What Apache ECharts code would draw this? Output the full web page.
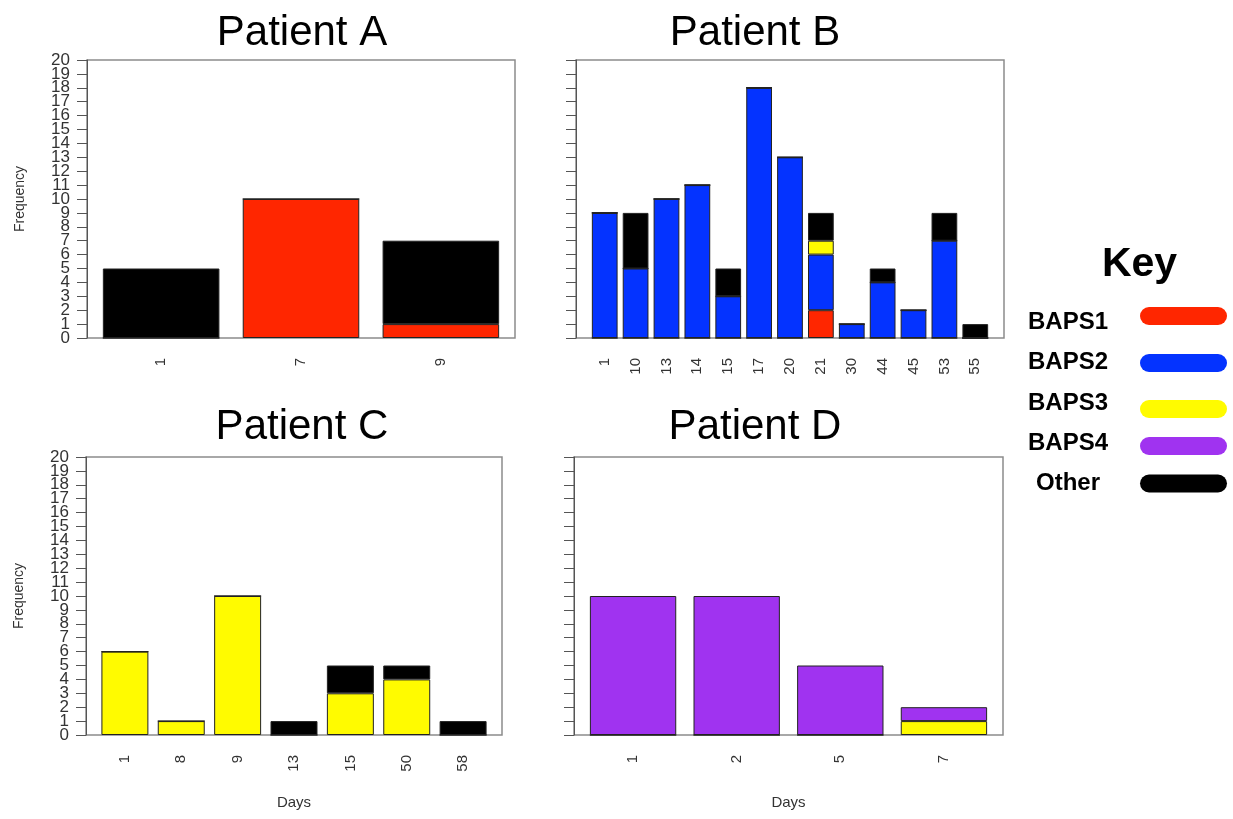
<!DOCTYPE html>
<html>
<head>
<meta charset="utf-8">
<script src="https://cdn.jsdelivr.net/npm/echarts@6/dist/echarts.min.js"></script>
<style>
html,body{margin:0;padding:0;background:#fff;}
#chart{width:1233px;height:819px;}
</style>
</head>
<body>
<div id="chart"></div>
<script>
// ---------------- data ----------------
const groupNames = ['BAPS1', 'BAPS2', 'BAPS3', 'BAPS4', 'Other'];
const groupColors = ['#FF2600', '#0433FF', '#FFFB00', '#A033F0', '#000000'];

const daysA = ['1', '7', '9'];
const patientA_BAPS1 = [0, 10, 1];
const patientA_Other = [5, 0, 6];

const daysB = ['1', '10', '13', '14', '15', '17', '20', '21', '30', '44', '45', '53', '55'];
const patientB_BAPS1 = [0, 0, 0, 0, 0, 0, 0, 2, 0, 0, 0, 0, 0];
const patientB_BAPS2 = [9, 5, 10, 11, 3, 18, 13, 4, 1, 4, 2, 7, 0];
const patientB_BAPS3 = [0, 0, 0, 0, 0, 0, 0, 1, 0, 0, 0, 0, 0];
const patientB_Other = [0, 4, 0, 0, 2, 0, 0, 2, 0, 1, 0, 2, 1];

const daysC = ['1', '8', '9', '13', '15', '50', '58'];
const patientC_BAPS3 = [6, 1, 10, 0, 3, 4, 0];
const patientC_Other = [0, 0, 0, 1, 2, 1, 1];

const daysD = ['1', '2', '5', '7'];
const patientD_BAPS3 = [0, 0, 0, 1];
const patientD_BAPS4 = [10, 10, 5, 1];

// y tick labels (frequency 0..20, every 1)
const yTickLabels = ['0', '1', '2', '3', '4', '5', '6', '7', '8', '9', '10',
  '11', '12', '13', '14', '15', '16', '17', '18', '19', '20'];
const yMin = 0, yMax = 20;

// ---------------- layout ----------------
const FONT = '"Liberation Sans", Arial, Helvetica, sans-serif';
const panels = [
  { title: 'Patient A', titleX: 302, titleY: 37, box: [87, 60, 428, 278], days: daysA, yLabels: true, xName: '',
    series: { BAPS1: patientA_BAPS1, Other: patientA_Other } },
  { title: 'Patient B', titleX: 755, titleY: 37, box: [576, 60, 428, 278], days: daysB, yLabels: false, xName: '',
    series: { BAPS1: patientB_BAPS1, BAPS2: patientB_BAPS2, BAPS3: patientB_BAPS3, Other: patientB_Other } },
  { title: 'Patient C', titleX: 302, titleY: 431, box: [86, 457, 416, 278], days: daysC, yLabels: true, xName: 'Days',
    series: { BAPS3: patientC_BAPS3, Other: patientC_Other } },
  { title: 'Patient D', titleX: 755, titleY: 431, box: [574, 457, 429, 278], days: daysD, yLabels: false, xName: 'Days',
    series: { BAPS3: patientD_BAPS3, BAPS4: patientD_BAPS4 } }
];

const grid = [], xAxis = [], yAxis = [], series = [], title = [];
panels.forEach((p, i) => {
  const [bx, by, bw, bh] = p.box;
  const n = p.days.length;
  const range = 1.2 * n - 0.2;            // R barplot: width 1, space 0.2
  const u = bw / (range * 1.08);          // 4% axis extension each side
  const margin = 0.04 * range * u - 0.1 * u;
  const fg = grid.length;
  grid.push({ left: bx, top: by, width: bw, height: bh, show: true,
    borderColor: '#8c8c8c', borderWidth: 1.5, backgroundColor: 'transparent', containLabel: false });
  const bg = grid.length;
  grid.push({ left: bx + margin, top: by, width: bw - 2 * margin, height: bh, containLabel: false });

  xAxis.push({ gridIndex: fg, type: 'value', show: false, min: 0, max: 1 });
  // tick/label axis: category axis on tick values so every label is kept
  yAxis.push({ gridIndex: fg, type: 'category', data: yTickLabels, boundaryGap: false,
    axisLine: { show: true, lineStyle: { color: '#555', width: 1 } },
    axisTick: { show: true, length: 10, interval: 0, lineStyle: { color: '#555', width: 1 } },
    splitLine: { show: false },
    axisLabel: { show: p.yLabels, interval: 0, margin: 17, fontSize: 17, color: '#333', fontFamily: FONT },
    name: p.yLabels ? 'Frequency' : '', nameLocation: 'middle', nameGap: 60, nameMoveOverlap: false,
    nameTextStyle: { fontSize: 14, color: '#333', fontFamily: FONT } });

  const xi = xAxis.length;
  xAxis.push({ gridIndex: bg, type: 'category', data: p.days,
    axisLine: { show: false }, axisTick: { show: false }, splitLine: { show: false },
    axisLabel: { rotate: 90, margin: 20, fontSize: 15, color: '#333', fontFamily: FONT, interval: 0 },
    name: p.xName, nameLocation: 'middle', nameGap: 60, nameMoveOverlap: false,
    nameTextStyle: { fontSize: 15, color: '#333', fontFamily: FONT } });
  const yi = yAxis.length;
  yAxis.push({ gridIndex: bg, type: 'value', min: yMin, max: yMax, show: false });

  groupNames.forEach((g, gi) => {
    if (!p.series[g]) return;
    series.push({
      name: g, type: 'bar', stack: 'p' + i, xAxisIndex: xi, yAxisIndex: yi,
      data: p.series[g], barCategoryGap: (0.2 / 1.2 * 100) + '%',
      itemStyle: { color: groupColors[gi], borderColor: '#222', borderWidth: 1 },
      emphasis: { disabled: true }, animation: false
    });
  });

  title.push({ text: p.title, left: p.titleX, top: p.titleY - 25, textAlign: 'center', padding: 0,
    textStyle: { fontSize: 42, fontWeight: 'normal', color: '#000', fontFamily: FONT } });
});

// key
const keyTextY = [322, 362, 403, 443, 483];
const keySwatchY = [316, 363, 409, 446, 483.5];
const graphic = [{ type: 'text', x: 1139.5, y: 265,
  style: { text: 'Key', font: 'bold 41px ' + FONT, fill: '#000', align: 'center', verticalAlign: 'middle' } }];
groupNames.forEach((g, gi) => {
  graphic.push({ type: 'text', x: 1068, y: keyTextY[gi],
    style: { text: g, font: 'bold 24px ' + FONT, fill: '#000', align: 'center', verticalAlign: 'middle' } });
  graphic.push({ type: 'rect', x: 1140, y: keySwatchY[gi] - 9,
    shape: { width: 87, height: 18, r: 9 }, style: { fill: groupColors[gi] } });
});

const chart = echarts.init(document.getElementById('chart'), null, { renderer: 'canvas' });
chart.setOption({
  animation: false,
  backgroundColor: '#ffffff',
  title, grid, xAxis, yAxis, series, graphic
});
</script>
</body>
</html>
